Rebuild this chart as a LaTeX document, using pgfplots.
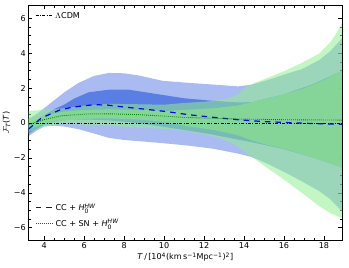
\documentclass[border=0pt]{standalone}
\usepackage{amsmath}
\usepackage{fontspec}
\setmainfont{DejaVu Sans}
\usepackage{pgfplots}
\usepackage{pgfplotstable}
\usepgfplotslibrary{fillbetween}
\pgfplotsset{compat=1.18}

\definecolor{rblue}{RGB}{65,105,225}
\definecolor{lgreen}{RGB}{144,238,144}
\definecolor{mgreen}{RGB}{140,225,140}
\definecolor{lcdmgreen}{RGB}{0,128,0}

\pgfplotstableread{
x lo hi
3.23 -0.75 0.25
3.6 -0.45 0.5
4.0 -0.2 0.85
4.5 -0.15 1.3
5.0 -0.2 1.75
5.72 -0.35 2.3
6.5 -0.6 2.7
7.23 -0.85 2.87
8.0 -0.97 2.85
8.75 -1.04 2.72
9.92 -1.15 2.42
11.27 -1.30 2.30
12.5 -1.48 2.2
13.7 -1.75 2.10
14.4 -1.95 2.2
15.2 -2.35 2.47
16.07 -2.84 2.8
16.91 -3.35 3.1
17.75 -3.89 3.6
18.3 -4.35 4.1
18.9 -5.04 4.85
}\btwo

\pgfplotstableread{
x lo hi
3.23 -0.6 -0.05
3.6 -0.35 0.2
4.0 -0.1 0.45
4.5 0.05 0.8
5.0 0.15 1.05
5.5 0.2 1.4
6.22 0.2 1.76
7.23 0.15 1.91
8.24 0.05 1.91
9.59 -0.15 1.67
11.0 -0.4 1.42
12.37 -0.65 1.28
13.7 -0.95 1.18
14.4 -1.1 1.2
16.0 -1.5 1.65
17.5 -2.0 2.25
18.9 -2.55 3.0
}\bone

\pgfplotstableread{
x lo hi
3.23 -0.55 0.7
4.0 -0.2 0.75
5.0 -0.05 0.85
6.0 -0.1 1.0
7.2 -0.15 1.1
8.5 -0.25 1.08
10.0 -0.33 1.05
11.0 -0.44 1.15
12.0 -0.65 1.22
12.7 -0.83 1.3
13.3 -1.1 1.45
13.7 -1.35 1.65
14.1 -1.7 2.05
14.4 -1.95 2.24
15.2 -2.6 2.6
16.07 -3.3 3.0
16.9 -4.0 3.45
17.75 -4.75 3.97
18.3 -5.15 4.6
18.6 -5.3 5.1
18.9 -5.45 5.72
}\gtwo

\pgfplotstableread{
x lo hi
3.23 -0.35 0.25
4.0 -0.05 0.45
5.0 0.15 0.65
6.0 0.25 0.75
7.2 0.27 0.78
8.75 0.2 0.75
10.2 0.05 0.7
11.0 -0.15 0.75
12.5 -0.4 0.85
13.7 -0.7 1.0
14.4 -1.0 1.2
15.0 -1.2 1.35
16.07 -1.5 1.67
16.9 -1.78 1.95
17.75 -2.1 2.33
18.9 -2.55 3.0
}\gone

\pgfplotstableread{
x y
3.23 -0.34
3.86 0.29
4.79 0.75
5.38 0.90
5.97 0.99
6.56 1.05
7.15 1.03
7.74 0.95
9.0 0.80
10.18 0.65
10.77 0.55
11.36 0.46
12.54 0.32
13.71 0.19
14.89 0.09
16.07 0.03
17.25 -0.02
18.5 -0.06
18.9 -0.07
}\bmean

\pgfplotstableread{
x y
3.23 -0.1
4.0 0.2
4.87 0.42
6.2 0.52
7.2 0.53
8.75 0.48
10.26 0.38
11.0 0.32
13.7 0.23
16.0 0.19
18.9 0.17
}\gmean

\begin{document}
\fontsize{8}{9.6}\selectfont
\begin{tikzpicture}
\pgfplotsset{
  base/.style={
    width=311pt, height=232.6pt, scale only axis,
    xmin=3.23, xmax=18.9, ymin=-6.7, ymax=6.72,
  },
}
\begin{axis}[base, name=main,
  axis line style={line width=0.7pt},
  xtick={4,6,...,18},
  ytick={-6,-4,-2,0,2,4,6},
  yticklabels={−6,−4,−2,0,2,4,6},
  minor x tick num=3, minor y tick num=3,
  tick align=inside, xtick pos=both, ytick pos=both,
  major tick length=3.5pt, minor tick length=2pt,
  every tick/.style={black, line width=0.6pt},
  /pgf/number format/assume math mode=true,
  xlabel={\textit{T}\,/\,[10\textsuperscript{4}(km\,s\textsuperscript{−1}Mpc\textsuperscript{−1})\textsuperscript{2}]},
  ylabel={$\mathcal{F}_{\textit{T}}$(\textit{T})},
  xlabel style={yshift=2pt},
  ylabel style={yshift=-2pt},
  legend style={draw=none, fill=none, at={(0.01,0.99)}, anchor=north west, font=\fontsize{8}{9.6}\selectfont},
  legend cell align=left,
]
\addplot[draw=none, name path=b2u, forget plot] table[x=x,y=hi] {\btwo};
\addplot[draw=none, name path=b2l, forget plot] table[x=x,y=lo] {\btwo};
\addplot[fill=rblue, fill opacity=0.45, draw=none, forget plot] fill between[of=b2u and b2l];
\addplot[draw=none, name path=b1u, forget plot] table[x=x,y=hi] {\bone};
\addplot[draw=none, name path=b1l, forget plot] table[x=x,y=lo] {\bone};
\addplot[fill=rblue, fill opacity=0.75, draw=none, forget plot] fill between[of=b1u and b1l];
\addplot[draw=none, name path=g2u, forget plot] table[x=x,y=hi] {\gtwo};
\addplot[draw=none, name path=g2l, forget plot] table[x=x,y=lo] {\gtwo};
\addplot[fill=lgreen, fill opacity=0.55, draw=none, forget plot] fill between[of=g2u and g2l];
\addplot[draw=none, name path=g1u, forget plot] table[x=x,y=hi] {\gone};
\addplot[draw=none, name path=g1l, forget plot] table[x=x,y=lo] {\gone};
\addplot[fill=mgreen, fill opacity=0.7, draw=none, forget plot] fill between[of=g1u and g1l];
\addplot[black, line width=0.9pt, dash pattern=on 3pt off 1.5pt on 0.8pt off 1.5pt] coordinates {(3.23,0) (18.9,0)};
\addlegendentry{$\Lambda$CDM}
\end{axis}
\begin{axis}[base, hide axis,
  legend style={draw=none, fill=none, at={(0.01,0.035)}, anchor=south west, font=\fontsize{8}{9.6}\selectfont, row sep=3pt},
  legend cell align=left,
]
\addplot[blue, line width=1.2pt, dash pattern=on 5.5pt off 5pt] table[x=x,y=y] {\bmean};
\addlegendentry{CC + \textit{H}$_{\text{0}}^{\textit{HW}}$}
\addplot[lcdmgreen, line width=0.9pt, dash pattern=on 0.8pt off 1.2pt] table[x=x,y=y] {\gmean};
\addlegendentry{CC + SN + \textit{H}$_{\text{0}}^{\textit{HW}}$}
\end{axis}
\path ([xshift=7pt,yshift=5.7pt]main.north east);
\path ([yshift=-27.7pt]main.south);
\end{tikzpicture}
\end{document}
